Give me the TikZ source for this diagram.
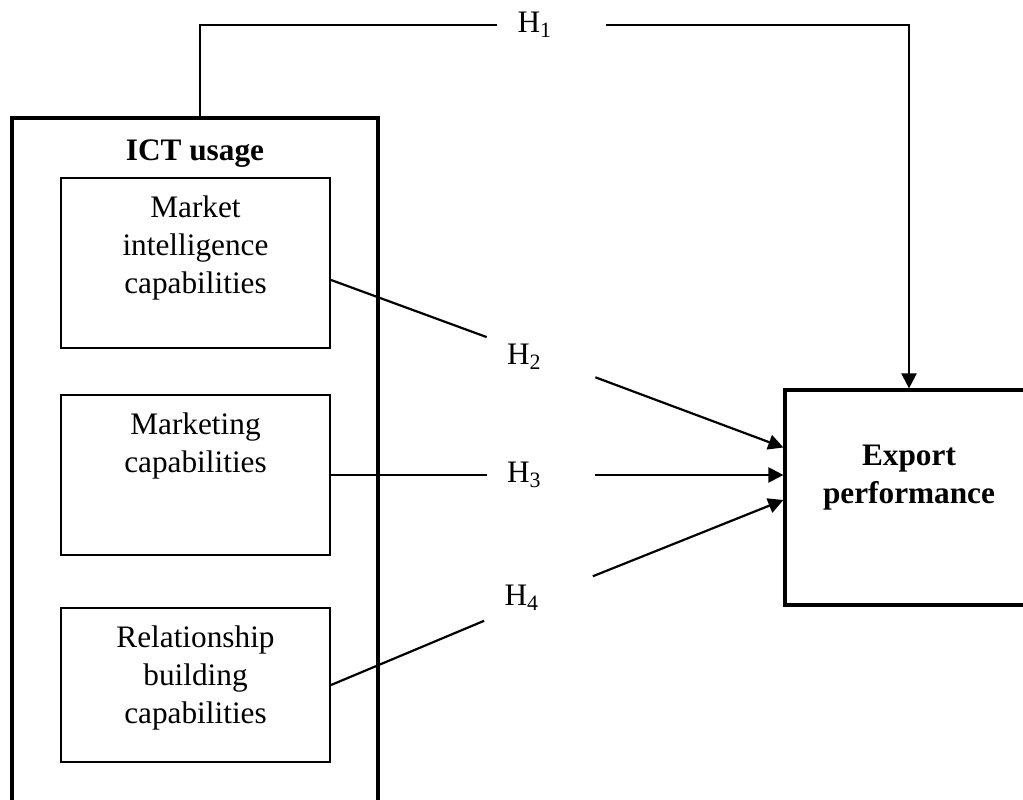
\documentclass[tikz,border=0pt]{standalone}
\usepackage{fontspec}
\setmainfont{Liberation Serif}
\usetikzlibrary{positioning,arrows.meta}

\begin{document}
\begin{tikzpicture}[
        every node/.style={font=\fontsize{17.8}{21.7}\selectfont},
        outerbox/.style={rectangle, draw=black, line width=1.8pt},
        capbox/.style={rectangle, draw=black, line width=1.2pt, minimum width=5.38cm},
        boxtext/.style={inner sep=0pt, align=center},
        boldtext/.style={boxtext, font=\fontsize{17.8}{21.7}\selectfont\bfseries},
        hyp/.style={inner xsep=0.4cm, text width=1.36cm, align=left, minimum height=1.2cm},
        link/.style={line width=1.25pt},
        arrow/.style={-{Triangle[length=8.6pt,width=8.6pt]}, line width=1.25pt}
    ]
    \useasboundingbox (0,0) rectangle (20.46,-16);

    % ICT usage block
    \node (ict) at (3.9,-9.48) [outerbox, minimum width=7.32cm, minimum height=14.24cm] {};
    \node (ictlabel) [boldtext, below=0.46cm of ict.north] {ICT usage};

    \node (mic) at (3.91,-5.26) [capbox, minimum height=3.4cm] {};
    \node (mictext) [boxtext, below=0.37cm of mic.north] {Market\\intelligence\\capabilities};

    \node (mkt) at (3.91,-9.5) [capbox, minimum height=3.2cm] {};
    \node (mkttext) [boxtext, below=0.37cm of mkt.north] {Marketing\\capabilities};

    \node (rbc) at (3.91,-13.7) [capbox, minimum height=3.08cm] {};
    \node (rbctext) [boxtext, below=0.37cm of rbc.north] {Relationship\\building\\capabilities};

    % Outcome
    \node (export) at (18.18,-9.95) [outerbox, minimum width=4.96cm, minimum height=4.3cm] {};
    \node (exptext) [boldtext, below=1.12cm of export.north] {Export\\performance};

    % Hypotheses
    \node (h1) at (11.03,-0.5) [hyp] {H\textsubscript{1}};
    \node (h2) at (10.82,-7.14) [hyp] {H\textsubscript{2}};
    \node (h3) at (10.82,-9.5) [hyp] {H\textsubscript{3}};
    \node (h4) at (10.77,-11.96) [hyp] {H\textsubscript{4}};

    \draw[link] ([xshift=0.1cm]ict.north) |- (h1.west);
    \draw[arrow] (h1.east) -| (export.north);

    \draw[link] ([yshift=-0.34cm]mic.east) -- (h2);
    \draw[arrow] (h2) -- ([yshift=1cm]export.west);

    \draw[link] (mkt.east) -- (h3.west);
    \draw[arrow] (h3.east) -- (h3.east -| export.west);

    \draw[link] (rbc.east) -- (h4);
    \draw[arrow] (h4) -- ([yshift=-0.05cm]export.west);

\end{tikzpicture}
\end{document}
